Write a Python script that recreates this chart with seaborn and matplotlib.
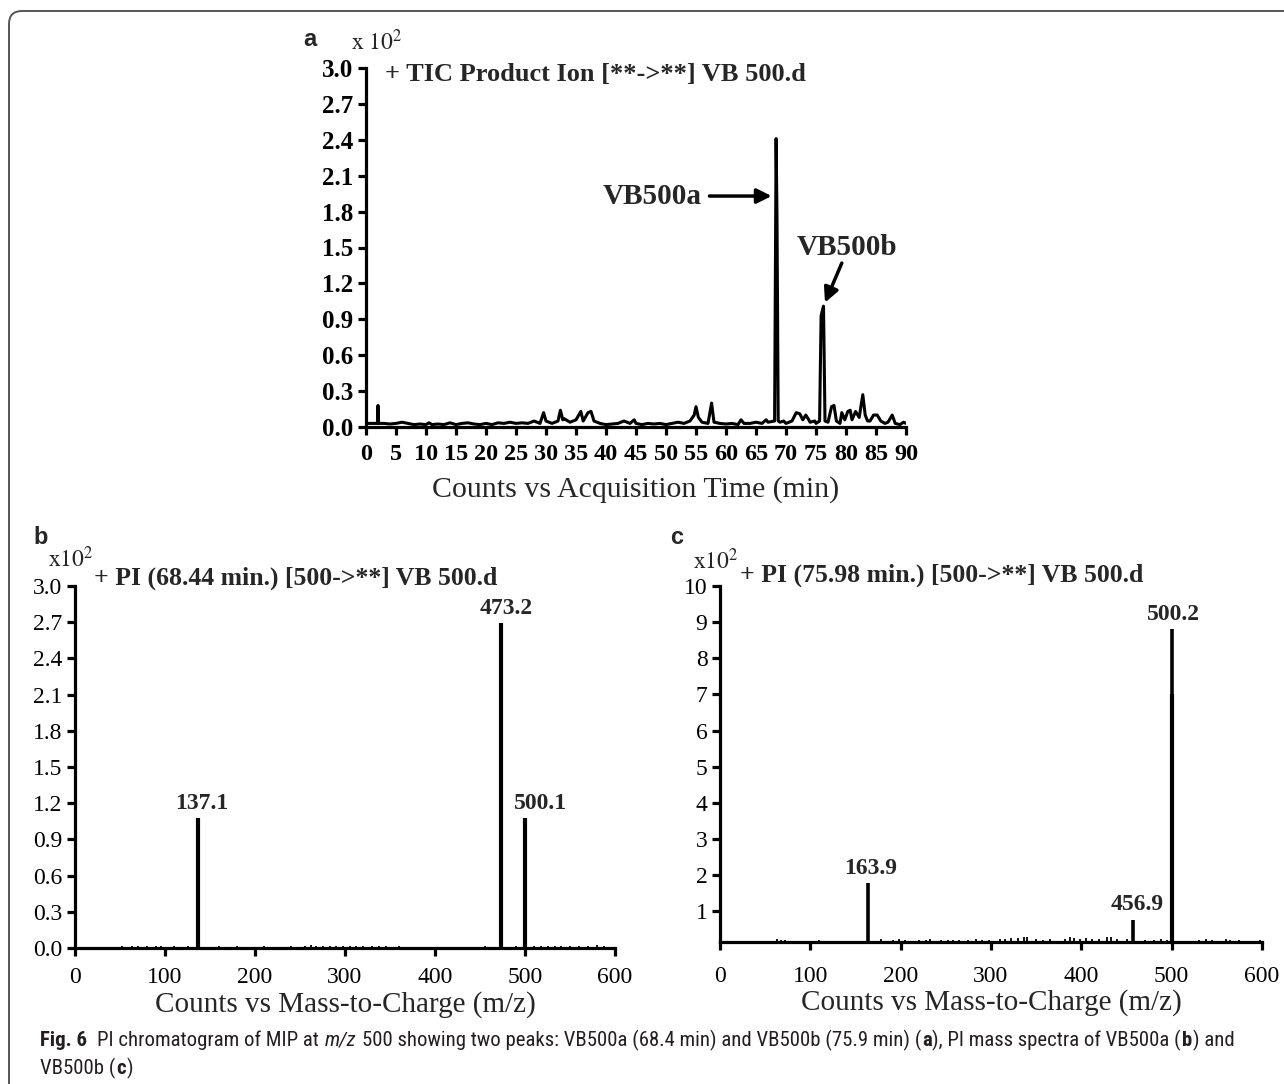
"""PI chromatogram (a) and PI mass spectra (b, c) of MIP at m/z 500."""

import matplotlib
matplotlib.use("Agg")
import matplotlib.pyplot as plt
from matplotlib import font_manager
from matplotlib.patches import FancyBboxPatch
from matplotlib.transforms import IdentityTransform
import seaborn as sns
import pandas as pd

# --- panel a: TIC product ion chromatogram (x10^2 counts) ---
tic_time = [0, 1, 1.9, 2.0, 2.1, 3, 4, 5, 6, 7, 8, 9, 10, 10.5, 11, 12, 13, 14, 15,
            16, 17, 18, 19, 20, 21, 22, 23, 24, 25, 26, 27, 28, 29, 29.6, 30, 31,
            32, 32.4, 32.8, 33, 34, 35, 35.8, 36.2, 37, 37.5, 38, 39, 40, 41, 42,
            43, 44, 44.7, 45, 46, 47, 48, 49, 50, 51, 52, 53, 54, 54.7, 55.0, 55.4,
            56, 57, 57.6, 58, 59, 60, 61, 62, 62.5, 63, 64, 65, 66, 66.7, 67, 68.1,
            68.35, 68.5, 68.7, 69, 69.6, 70, 71, 71.7, 72.3, 72.8, 73.3, 73.8, 74,
            74.8, 75, 75.6, 75.85, 76.25, 76.5, 77, 77.6, 78, 78.4, 79, 79.3, 79.8,
            80.3, 80.7, 81, 81.6, 82.2, 82.8, 83.2, 83.6, 84, 84.6, 85.2, 85.8,
            86.5, 87, 87.7, 88.2, 89, 89.6, 90]
tic_counts = [0.03, 0.03, 0.03, 0.18, 0.03, 0.03, 0.025, 0.03, 0.04, 0.03, 0.02,
              0.025, 0.02, 0.035, 0.02, 0.025, 0.02, 0.035, 0.02, 0.03, 0.035,
              0.025, 0.02, 0.03, 0.02, 0.035, 0.03, 0.04, 0.03, 0.035, 0.03, 0.05,
              0.03, 0.12, 0.05, 0.03, 0.05, 0.14, 0.06, 0.07, 0.04, 0.06, 0.13,
              0.05, 0.12, 0.13, 0.05, 0.03, 0.02, 0.025, 0.03, 0.05, 0.03, 0.06,
              0.03, 0.02, 0.03, 0.025, 0.03, 0.02, 0.03, 0.04, 0.03, 0.05, 0.10,
              0.17, 0.08, 0.04, 0.03, 0.20, 0.04, 0.03, 0.025, 0.03, 0.02, 0.06,
              0.03, 0.03, 0.04, 0.03, 0.06, 0.04, 0.05, 2.41, 1.75, 0.05, 0.04,
              0.05, 0.03, 0.05, 0.12, 0.11, 0.06, 0.10, 0.06, 0.04, 0.05, 0.03,
              0.05, 0.93, 1.01, 0.05, 0.04, 0.17, 0.18, 0.05, 0.03, 0.12, 0.06,
              0.13, 0.14, 0.06, 0.13, 0.08, 0.27, 0.10, 0.05, 0.05, 0.10, 0.10,
              0.05, 0.03, 0.04, 0.10, 0.03, 0.02, 0.04, 0.03]
tic_xticks = list(range(0, 91, 5))
tic_yticks = [0.0, 0.3, 0.6, 0.9, 1.2, 1.5, 1.8, 2.1, 2.4, 2.7, 3.0]

# --- panel b: PI (68.44 min) spectrum ---
b_peak_mz = [137.1, 473.2, 500.1]
b_peak_int = [1.075, 2.69, 1.075]
b_noise_mz = [52, 58, 63, 70, 75, 80, 85, 90, 96, 103, 110, 118, 125, 150, 160,
              172, 180, 195, 210, 230, 240, 255, 262, 268, 275, 283, 290, 298,
              305, 312, 320, 330, 338, 345, 352, 360, 375, 395, 420, 440, 455,
              465, 490, 510, 518, 525, 533, 540, 550, 560, 570, 580, 588]
b_noise_int = [0.015, 0.01, 0.015, 0.02, 0.01, 0.015, 0.01, 0.02, 0.015, 0.01,
               0.015, 0.01, 0.015, 0.01, 0.015, 0.01, 0.015, 0.01, 0.015, 0.01,
               0.02, 0.015, 0.025, 0.02, 0.02, 0.015, 0.02, 0.015, 0.02, 0.015,
               0.02, 0.015, 0.02, 0.015, 0.01, 0.015, 0.01, 0.01, 0.01, 0.01,
               0.015, 0.01, 0.015, 0.02, 0.015, 0.02, 0.015, 0.02, 0.015, 0.02,
               0.015, 0.025, 0.02]
b_yticks = [0.0, 0.3, 0.6, 0.9, 1.2, 1.5, 1.8, 2.1, 2.4, 2.7, 3.0]

# --- panel c: PI (75.98 min) spectrum ---
c_peak_mz = [163.9, 456.9, 500.2]
c_peak_int = [1.78, 0.77, 8.8]
c_peak_label = ["163.9", "456.9", "500.2"]
c_shoulder_mz = [500.7]
c_shoulder_int = [7.0]
c_noise_mz = [63, 68, 72, 110, 178, 192, 198, 205, 220, 228, 232, 245, 252, 258,
              265, 275, 283, 290, 298, 310, 315, 322, 330, 336, 340, 350, 358,
              365, 382, 388, 392, 398, 405, 412, 420, 428, 433, 440, 450, 470,
              480, 488, 495, 530, 538, 545, 560, 565, 575, 598]
c_noise_int = [0.22, 0.2, 0.2, 0.2, 0.22, 0.2, 0.22, 0.2, 0.2, 0.2, 0.22, 0.2,
               0.2, 0.2, 0.2, 0.2, 0.22, 0.2, 0.2, 0.24, 0.22, 0.25, 0.26, 0.28,
               0.28, 0.22, 0.2, 0.22, 0.22, 0.28, 0.25, 0.24, 0.26, 0.24, 0.24,
               0.28, 0.28, 0.24, 0.22, 0.2, 0.2, 0.22, 0.2, 0.2, 0.22, 0.2, 0.22,
               0.2, 0.2, 0.2]
c_yticks = [1, 2, 3, 4, 5, 6, 7, 8, 9, 10]

mz_xticks = [0, 100, 200, 300, 400, 500, 600]

# label nudges (pixels, right of the peak)
b_label_dx = [3, 5, 15]
c_label_dx = [3, 4, 2]

W, H, DPI = 1284, 1084, 100

sns.set_style("ticks")
plt.rcParams["font.family"] = ["Liberation Serif", "DejaVu Serif"]
plt.rcParams["mathtext.fontset"] = "stix"

fig = plt.figure(figsize=(W / DPI, H / DPI), dpi=DPI)
fig.patch.set_facecolor("white")


def px_axes(left, top, right, bottom):
    return fig.add_axes([left / W, 1 - bottom / H, (right - left) / W, (bottom - top) / H])


def fig_text(x, y, s, **kw):
    return fig.text(x / W, 1 - y / H, s, **kw)


def style_axes(ax, xpad=3):
    for side in ("top", "right"):
        ax.spines[side].set_visible(False)
    for side in ("left", "bottom"):
        ax.spines[side].set_linewidth(2.3)
        ax.spines[side].set_color("black")
    ax.tick_params(direction="out", length=6, width=2.3, colors="black", pad=3)
    ax.tick_params(axis="x", pad=xpad)
    ax.set_ylabel("")


def stick_frame(mz, inten, base):
    rows = []
    for i, (m, h) in enumerate(zip(mz, inten)):
        rows.append({"mz": m, "y": base, "stick": i})
        rows.append({"mz": m, "y": h, "stick": i})
    return pd.DataFrame(rows)


def draw_sticks(ax, mz, inten, base, lw):
    df = stick_frame(mz, inten, base)
    sns.lineplot(data=df, x="mz", y="y", units="stick", estimator=None,
                 color="black", lw=lw, ax=ax, solid_capstyle="butt")


# ---------------- panel a ----------------
ax_a = px_axes(366, 68, 906, 427)
df_a = pd.DataFrame({"time": tic_time, "counts": tic_counts})
sns.lineplot(data=df_a, x="time", y="counts", ax=ax_a, color="black", lw=2.2,
             estimator=None, sort=True)
style_axes(ax_a, xpad=6)
ax_a.set_xlim(0, 90)
ax_a.set_ylim(0, 3.0)
ax_a.set_xticks(tic_xticks)
ax_a.set_xticklabels([str(v) for v in tic_xticks], fontsize=17.5, fontweight="bold")
ax_a.set_yticks(tic_yticks)
ax_a.set_yticklabels([f"{v:.1f}" for v in tic_yticks], fontsize=18, fontweight="bold")
ax_a.set_xlabel("Counts vs Acquisition Time (min)", fontsize=21.5, labelpad=8)

ax_a.annotate("VB500a", xy=(67.6, 1.93), xytext=(56.0, 1.93), ha="right", va="center",
              fontsize=21, fontweight="bold",
              arrowprops=dict(arrowstyle="-|>", color="black", lw=2.5,
                              mutation_scale=22, shrinkA=3, shrinkB=0))
ax_a.text(80.2, 1.50, "VB500b", ha="center", va="center", fontsize=21, fontweight="bold")
ax_a.annotate("", xy=(76.5, 1.04), xytext=(79.3, 1.37),
              arrowprops=dict(arrowstyle="-|>", color="black", lw=2.5,
                              mutation_scale=22, shrinkA=0, shrinkB=0))

fig_text(310, 40, "a", fontsize=17, fontweight="bold", ha="center", va="center",
         family=["Liberation Sans", "DejaVu Sans"])
fig_text(351, 42, r"$\mathrm{x\ 10}^{2}$", fontsize=17, ha="left", va="center")
fig_text(385, 74, "+ TIC Product Ion [**->**] VB 500.d", fontsize=19,
         fontweight="bold", ha="left", va="center")

# ---------------- panel b ----------------
ax_b = px_axes(75, 586, 615, 948)
draw_sticks(ax_b, b_noise_mz, b_noise_int, 0.0, 1.3)
draw_sticks(ax_b, b_peak_mz, b_peak_int, 0.0, 3.0)
style_axes(ax_b, xpad=8)
ax_b.set_xlim(0, 600)
ax_b.set_ylim(0, 3.0)
ax_b.set_xticks(mz_xticks)
ax_b.set_xticklabels([str(v) for v in mz_xticks], fontsize=17)
ax_b.set_yticks(b_yticks)
ax_b.set_yticklabels([f"{v:.1f}" for v in b_yticks], fontsize=17)
ax_b.set_xlabel("Counts vs Mass-to-Charge (m/z)", fontsize=21, labelpad=2)
for m, h, dx in zip(b_peak_mz, b_peak_int, b_label_dx):
    ax_b.annotate(f"{m:.1f}", xy=(m, h), xytext=(dx * 0.72, 3), textcoords="offset points",
                  ha="center", va="bottom", fontsize=17, fontweight="bold")

fig_text(41, 537, "b", fontsize=17, fontweight="bold", ha="center", va="center",
         family=["Liberation Sans", "DejaVu Sans"])
fig_text(48, 559, r"$\mathrm{x10}^{2}$", fontsize=17, ha="left", va="center")
fig_text(94, 578, "+ PI (68.44 min.) [500->**] VB 500.d", fontsize=18.5,
         fontweight="bold", ha="left", va="center")

# ---------------- panel c ----------------
ax_c = px_axes(720, 586, 1262, 942)
draw_sticks(ax_c, c_noise_mz, c_noise_int, 0.15, 1.3)
draw_sticks(ax_c, c_shoulder_mz, c_shoulder_int, 0.15, 3.0)
draw_sticks(ax_c, c_peak_mz, c_peak_int, 0.15, 2.6)
style_axes(ax_c, xpad=11)
ax_c.set_xlim(0, 600)
ax_c.set_ylim(0.15, 10)
ax_c.set_xticks(mz_xticks)
ax_c.set_xticklabels([str(v) for v in mz_xticks], fontsize=17)
ax_c.set_yticks(c_yticks)
ax_c.set_yticklabels([str(v) for v in c_yticks], fontsize=17)
ax_c.set_xlabel("Counts vs Mass-to-Charge (m/z)", fontsize=21, labelpad=2)
for m, h, lab, dx in zip(c_peak_mz, c_peak_int, c_peak_label, c_label_dx):
    ax_c.annotate(lab, xy=(m, h), xytext=(dx * 0.72, 3), textcoords="offset points",
                  ha="center", va="bottom", fontsize=17, fontweight="bold")

fig_text(677, 538, "c", fontsize=17, fontweight="bold", ha="center", va="center",
         family=["Liberation Sans", "DejaVu Sans"])
fig_text(693, 561, r"$\mathrm{x10}^{2}$", fontsize=17, ha="left", va="center")
fig_text(740, 575, "+ PI (75.98 min.) [500->**] VB 500.d", fontsize=18.5,
         fontweight="bold", ha="left", va="center")

# ---------------- caption ----------------
names = {f.name for f in font_manager.fontManager.ttflist}
cap_font = next((n for n in ["Liberation Sans Narrow", "Roboto Condensed", "Roboto", "Lato"]
                 if n in names), "DejaVu Sans")

caption_1 = [("Fig. 6", "bold", "normal", 0),
             ("PI chromatogram of MIP at", "normal", "normal", 2),
             ("m/z", "normal", "italic", 1),
             ("500 showing two peaks: VB500a (68.4 min) and VB500b (75.9 min) (", "normal", "normal", 1),
             ("a", "bold", "normal", 0),
             ("), PI mass spectra of VB500a (", "normal", "normal", 0),
             ("b", "bold", "normal", 0),
             (") and", "normal", "normal", 0)]
caption_2 = [("VB500b (", "normal", "normal", 0),
             ("c", "bold", "normal", 0),
             (")", "normal", "normal", 0)]

renderer = fig.canvas.get_renderer()


def draw_runs(runs, x0, y, size, color="#231f20"):
    probe = fig_text(0, 0, "a a", fontsize=size, family=cap_font)
    probe2 = fig_text(0, 0, "aa", fontsize=size, family=cap_font)
    space = probe.get_window_extent(renderer).width - probe2.get_window_extent(renderer).width
    probe.remove()
    probe2.remove()
    x = x0
    artists = []
    for text, weight, style, gap in runs:
        x += gap * space
        t = fig_text(x, y, text, fontsize=size, fontweight=weight, fontstyle=style,
                     family=cap_font, ha="left", va="center", color=color)
        artists.append(t)
        x += t.get_window_extent(renderer).width + 0.8
    return x - x0, artists


width, arts = draw_runs(caption_1, 40, 1040, 12)
for a in arts:
    a.remove()
cap_size = 12 * 1192 / width
draw_runs(caption_1, 40, 1040, cap_size)
draw_runs(caption_2, 40, 1068, cap_size)

# figure frame (rounded top-left corner, runs off right and bottom edges)
frame = FancyBboxPatch((9, -40), 1400, 1073 + 40, boxstyle="round,pad=0,rounding_size=13",
                       transform=IdentityTransform(), fill=False, edgecolor="#555555",
                       lw=1.4)
fig.add_artist(frame)

fig.savefig("out.png", dpi=DPI)
